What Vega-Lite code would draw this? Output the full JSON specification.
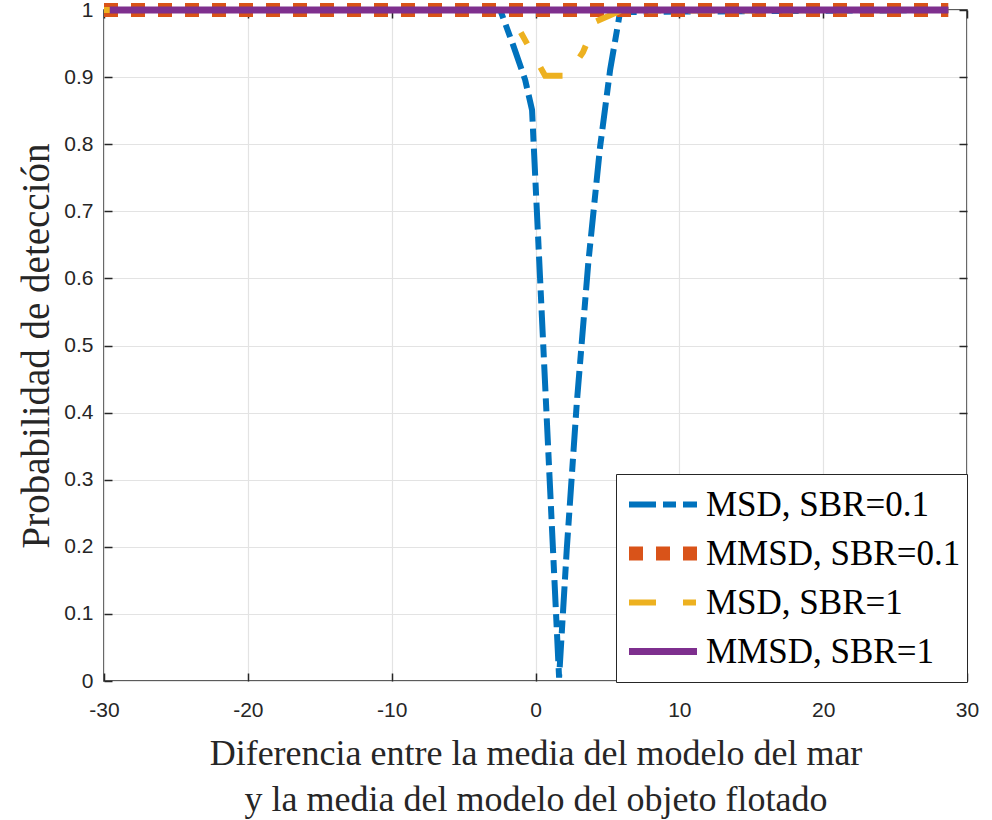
{
  "$schema": "https://vega.github.io/schema/vega-lite/v6.json",
  "width": 863,
  "height": 671,
  "autosize": {"type": "none"},
  "padding": {"left": 104, "top": 10, "right": 25, "bottom": 139},
  "background": "white",
  "config": {
    "view": {"stroke": "#262626", "strokeWidth": 1.5},
    "axis": {
      "labelFont": "Liberation Sans",
      "labelFontSize": 21,
      "labelColor": "#262626",
      "labelFlush": false,
      "titleFont": "Liberation Serif",
      "titleColor": "#262626",
      "titleFontWeight": "normal",
      "gridColor": "#e3e3e3",
      "gridWidth": 1.2,
      "domain": false,
      "tickColor": "#262626",
      "tickWidth": 1.5,
      "tickSize": -8
    }
  },
  "data": {
    "values": [
      {"serie": "MSD, SBR=0.1", "x": -30, "y": 1},
      {"serie": "MSD, SBR=0.1", "x": -2.45, "y": 1},
      {"serie": "MSD, SBR=0.1", "x": -1.56, "y": 0.948},
      {"serie": "MSD, SBR=0.1", "x": -0.72, "y": 0.896},
      {"serie": "MSD, SBR=0.1", "x": -0.24, "y": 0.851},
      {"serie": "MSD, SBR=0.1", "x": 1.64, "y": 0.005},
      {"serie": "MSD, SBR=0.1", "x": 2.17, "y": 0.195},
      {"serie": "MSD, SBR=0.1", "x": 2.87, "y": 0.414},
      {"serie": "MSD, SBR=0.1", "x": 3.67, "y": 0.623},
      {"serie": "MSD, SBR=0.1", "x": 4.49, "y": 0.796},
      {"serie": "MSD, SBR=0.1", "x": 5.19, "y": 0.911},
      {"serie": "MSD, SBR=0.1", "x": 5.88, "y": 0.997},
      {"serie": "MSD, SBR=0.1", "x": 28.7, "y": 1},
      {"serie": "MMSD, SBR=0.1", "x": -30, "y": 1},
      {"serie": "MMSD, SBR=0.1", "x": 28.7, "y": 1},
      {"serie": "MSD, SBR=1", "x": -30, "y": 1},
      {"serie": "MSD, SBR=1", "x": -1.9, "y": 1},
      {"serie": "MSD, SBR=1", "x": 0.67, "y": 0.902},
      {"serie": "MSD, SBR=1", "x": 2.2, "y": 0.902},
      {"serie": "MSD, SBR=1", "x": 3.3, "y": 0.937},
      {"serie": "MSD, SBR=1", "x": 4.2, "y": 0.983},
      {"serie": "MSD, SBR=1", "x": 5.9, "y": 0.999},
      {"serie": "MSD, SBR=1", "x": 28.7, "y": 1},
      {"serie": "MMSD, SBR=1", "x": -29.6, "y": 1},
      {"serie": "MMSD, SBR=1", "x": 28.7, "y": 1}
    ]
  },
  "layer": [
    {
      "mark": {"type": "line", "clip": false, "strokeCap": "butt", "strokeJoin": "miter"},
      "encoding": {
        "x": {
          "field": "x", "type": "quantitative",
          "scale": {"domain": [-30, 30], "nice": false, "zero": false},
          "axis": {
            "orient": "bottom",
            "values": [-30, -20, -10, 0, 10, 20, 30],
            "labelExpr": "'' + datum.value",
            "labelPadding": 26,
            "title": ["Diferencia entre la media del modelo del mar", "y la media del modelo del objeto flotado"],
            "titleFontSize": 36,
            "titleLineHeight": 46,
            "titleBaseline": "alphabetic",
            "titleY": 83,
            "titleX": 431.5,
            "titleAnchor": "middle"
          }
        },
        "y": {
          "field": "y", "type": "quantitative",
          "scale": {"domain": [0, 1], "nice": false, "zero": false},
          "axis": {
            "orient": "left",
            "values": [0, 0.1, 0.2, 0.3, 0.4, 0.5, 0.6, 0.7, 0.8, 0.9, 1],
            "format": ".1~f",
            "labelPadding": 19,
            "title": "Probabilidad de detección",
            "titleFontSize": 39,
            "titleBaseline": "alphabetic",
            "titleX": -56,
            "titleY": 335.5,
            "titleAnchor": "middle"
          }
        },
        "color": {
          "field": "serie", "type": "nominal",
          "scale": {
            "domain": ["MSD, SBR=0.1", "MMSD, SBR=0.1", "MSD, SBR=1", "MMSD, SBR=1"],
            "range": ["#0072BD", "#D95319", "#EDB120", "#7E2F8E"]
          },
          "legend": {
            "title": null,
            "orient": "none",
            "legendX": 512,
            "legendY": 464,
            "strokeColor": "#262626",
            "fillColor": "white",
            "padding": 6,
            "symbolType": "stroke",
            "symbolSize": 4624,
            "clipHeight": 49,
            "labelFont": "Liberation Serif",
            "labelFontSize": 35,
            "labelColor": "#000000",
            "labelOffset": 2,
            "rowPadding": 0,
            "labelLimit": 400
          }
        },
        "strokeDash": {
          "field": "serie", "type": "nominal",
          "scale": {
            "domain": ["MSD, SBR=0.1", "MMSD, SBR=0.1", "MSD, SBR=1", "MMSD, SBR=1"],
            "range": [[27, 7, 13, 7], [14, 13], [27, 27, 13, 27], [1, 0]]
          },
          "legend": null
        },
        "strokeWidth": {
          "field": "serie", "type": "nominal",
          "scale": {
            "type": "ordinal",
            "domain": ["MSD, SBR=0.1", "MMSD, SBR=0.1", "MSD, SBR=1", "MMSD, SBR=1"],
            "range": [6, 14, 6, 7]
          },
          "legend": null
        }
      }
    },
    {
      "mark": {"type": "line", "opacity": 0},
      "encoding": {
        "x": {
          "field": "x", "type": "quantitative",
          "axis": {
            "orient": "top",
            "values": [-30, -20, -10, 0, 10, 20, 30],
            "labels": false,
            "grid": false,
            "title": null
          }
        },
        "y": {
          "field": "y", "type": "quantitative",
          "axis": {
            "orient": "right",
            "values": [0, 0.1, 0.2, 0.3, 0.4, 0.5, 0.6, 0.7, 0.8, 0.9, 1],
            "labels": false,
            "grid": false,
            "title": null
          }
        },
        "detail": {"field": "serie", "type": "nominal"}
      }
    }
  ],
  "resolve": {"axis": {"x": "independent", "y": "independent"}}
}
